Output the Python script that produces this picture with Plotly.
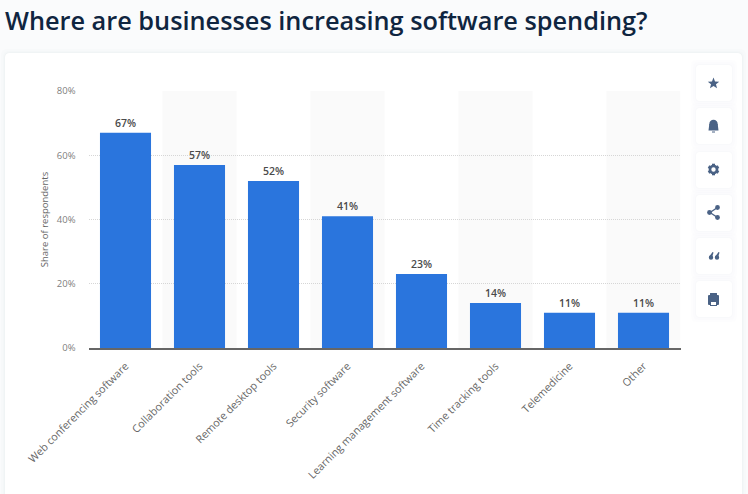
import math
import plotly.graph_objects as go

# Chart data
categories = ["Web conferencing software", "Collaboration tools", "Remote desktop tools",
              "Security software", "Learning management software", "Time tracking tools",
              "Telemedicine", "Other"]
shares = [67, 57, 52, 41, 23, 14, 11, 11]
y_ticks = [0, 20, 40, 60, 80]

WIDTH, HEIGHT = 748, 494
PLOT_LEFT, PLOT_RIGHT, PLOT_TOP, PLOT_BOTTOM = 88.5, 680.5, 91, 348


def px(x):
    return x / WIDTH


def py(y):
    return 1 - y / HEIGHT


def round_rect(x0, y0, x1, y1, r, fill, opacity=1, layer="below"):
    """Rounded rectangle in page pixels."""
    path = (f"M{px(x0 + r)},{py(y0)} L{px(x1 - r)},{py(y0)} "
            f"Q{px(x1)},{py(y0)} {px(x1)},{py(y0 + r)} L{px(x1)},{py(y1 - r)} "
            f"Q{px(x1)},{py(y1)} {px(x1 - r)},{py(y1)} L{px(x0 + r)},{py(y1)} "
            f"Q{px(x0)},{py(y1)} {px(x0)},{py(y1 - r)} L{px(x0)},{py(y0 + r)} "
            f"Q{px(x0)},{py(y0)} {px(x0 + r)},{py(y0)} Z")
    return dict(type="path", xref="paper", yref="paper", path=path, fillcolor=fill,
                opacity=opacity, line_width=0, layer=layer)


def polygon(points, fill):
    path = "M" + " L".join(f"{px(x)},{py(y)}" for x, y in points) + " Z"
    return dict(type="path", xref="paper", yref="paper", path=path, fillcolor=fill,
                line_width=0, layer="above")


def circle(cx, cy, r, fill):
    return dict(type="circle", xref="paper", yref="paper", x0=px(cx - r), x1=px(cx + r),
                y0=py(cy + r), y1=py(cy - r), fillcolor=fill, line_width=0, layer="above")


def segment(x0, y0, x1, y1, width):
    return dict(type="line", xref="paper", yref="paper", x0=px(x0), x1=px(x1), y0=py(y0),
                y1=py(y1), line=dict(color=ICON, width=width), layer="above")


ICON = "#4a6285"
shapes = []

# Card with a soft edge
for grow, alpha in [(4, 0.01), (2, 0.012), (1, 0.015)]:
    shapes.append(round_rect(5 - grow, 53 - grow, 742 + grow, 520, 6, "#1f3a5f", alpha))
shapes.append(round_rect(5, 53, 742, 520, 5, "#ffffff"))

# Grey bands behind every other category
for i in range(1, len(categories), 2):
    shapes.append(dict(type="rect", xref="x", yref="paper", x0=i - 0.5, x1=i + 0.5,
                       y0=py(PLOT_BOTTOM), y1=py(PLOT_TOP), fillcolor="#fafafa",
                       line_width=0, layer="below"))

# Button column
button_tops = [65, 108, 152, 195, 238, 281]
for top in button_tops:
    for grow, alpha in [(5, 0.006), (3, 0.008), (1, 0.012)]:
        shapes.append(round_rect(696 - grow, top - grow, 732 + grow, top + 36 + grow, 5, "#1f3a5f", alpha))
    shapes.append(round_rect(696, top, 732, top + 36, 4, "#ffffff"))

# Star
star_cx, star_cy = 713.5, 83.5
star = []
for k in range(10):
    r = 6 if k % 2 == 0 else 2.6
    a = math.radians(-90 + 36 * k)
    star.append((star_cx + r * math.cos(a), star_cy + r * math.sin(a)))
shapes.append(polygon(star, ICON))

# Bell
shapes.append(circle(713.5, 124, 4.2, ICON))
shapes.append(polygon([(709.3, 124), (717.7, 124), (718.5, 130.5), (708.5, 130.5)], ICON))
shapes.append(segment(712, 132, 715, 132, 1))

# Gear
for k in range(6):
    a = math.radians(60 * k + 30)
    shapes.append(segment(713.5 + 3.5 * math.cos(a), 169.5 + 3.5 * math.sin(a),
                          713.5 + 5.8 * math.cos(a), 169.5 + 5.8 * math.sin(a), 3))
shapes.append(dict(type="circle", xref="paper", yref="paper", x0=px(710), x1=px(717),
                   y0=py(173), y1=py(166), fillcolor="#ffffff",
                   line=dict(color=ICON, width=2.6), layer="above"))

# Share
shapes.append(segment(717.5, 207.5, 710, 212.5, 1.4))
shapes.append(segment(717.5, 217.5, 710, 212.5, 1.4))
shapes.append(circle(717.5, 207.5, 2.4, ICON))
shapes.append(circle(717.5, 217.5, 2.4, ICON))
shapes.append(circle(709.5, 212.5, 2.4, ICON))

# Quote marks
for qx in (709, 715):
    shapes.append(circle(qx + 2, 257.5, 2.2, ICON))
    shapes.append(polygon([(qx, 257), (qx + 3.5, 252), (qx + 4.5, 252.6), (qx + 3, 257.5)], ICON))

# Printer
shapes.append(round_rect(708, 295, 719, 305, 1, ICON, layer="above"))
shapes.append(round_rect(710, 293, 717, 296, 0.3, ICON, layer="above"))
shapes.append(round_rect(710, 301, 717, 306, 0.3, ICON, layer="above"))
shapes.append(round_rect(711, 302, 716, 305, 0.1, "#ffffff", layer="above"))

fig = go.Figure(go.Bar(
    x=categories,
    y=shares,
    text=[f"{v}%" for v in shares],
    textposition="outside",
    cliponaxis=False,
    textfont=dict(family="Open Sans", size=10.5, color="#4a4a4a", weight=600),
    marker=dict(color="#2a75dd", line_width=0),
))

fig.update_layout(
    width=WIDTH,
    height=HEIGHT,
    margin=dict(l=0, r=0, t=0, b=0, pad=0),
    autosize=False,
    paper_bgcolor="#fafbfc",
    plot_bgcolor="rgba(0,0,0,0)",
    bargap=0.31,
    showlegend=False,
    shapes=shapes,
    title=dict(
        text="Where are businesses increasing software spending?",
        x=px(5),
        xanchor="left",
        y=py(21),
        yanchor="middle",
        automargin=False,
        font=dict(family="Open Sans", size=25.3, color="#0f2540", weight=600),
    ),
    xaxis=dict(
        automargin=False,
        domain=[px(PLOT_LEFT), px(PLOT_RIGHT)],
        range=[-0.5, len(categories) - 0.5],
        tickangle=-45,
        ticks="",
        ticklabelstandoff=6,
        tickfont=dict(family="Open Sans", size=10.7, color="#666666"),
        showline=True,
        linecolor="#666666",
        linewidth=1.5,
        showgrid=False,
    ),
    yaxis=dict(
        automargin=False,
        domain=[py(PLOT_BOTTOM), py(PLOT_TOP)],
        range=[0, 80],
        tickvals=y_ticks,
        ticktext=[f"{v}%" for v in y_ticks],
        ticks="",
        ticklabelstandoff=12,
        tickfont=dict(family="Open Sans", size=9.5, color="#808080"),
        showline=False,
        gridcolor="#d6d6d6",
        griddash="1px,1px",
        gridwidth=1,
        zeroline=False,
        title=dict(text="Share of respondents", standoff=6,
                   font=dict(family="Open Sans", size=9.5, color="#666666")),
    ),
)

# Drop the page's default body margin so the figure fills the window
fig.write_html("out.html", config={"displayModeBar": False},
               post_script="document.body.style.margin='0';")
